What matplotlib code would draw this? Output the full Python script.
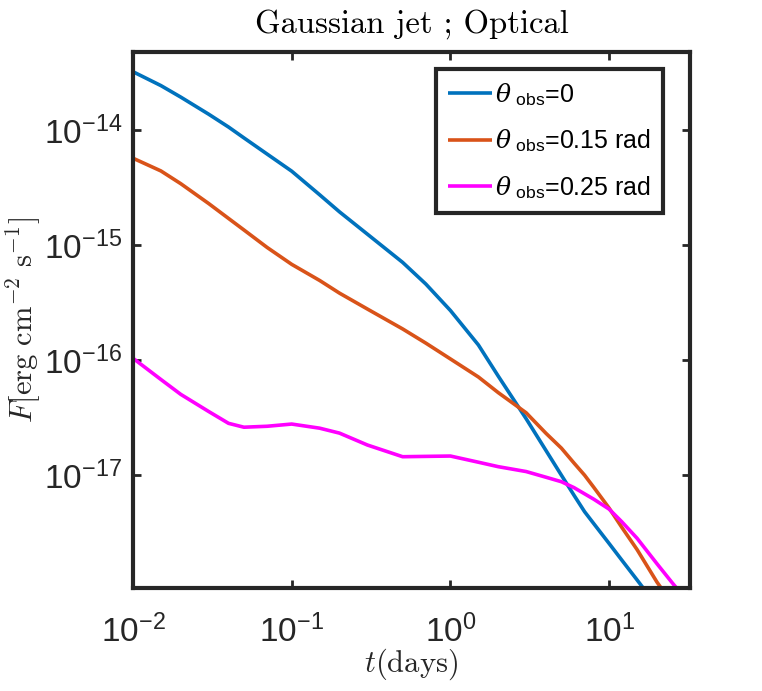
import numpy as np
import matplotlib
matplotlib.use("Agg")
import matplotlib.pyplot as plt
from matplotlib import font_manager

avail = {f.name for f in font_manager.fontManager.ttflist}
narrow = 'Liberation Sans Narrow' in avail
tick_font = 'Liberation Sans Narrow' if narrow else 'Liberation Sans'
tick_size = 26 if narrow else 24

plt.rcParams['font.family'] = ['Liberation Sans', 'DejaVu Sans']
plt.rcParams['mathtext.fontset'] = 'custom'
plt.rcParams['mathtext.rm'] = 'Liberation Sans'
plt.rcParams['mathtext.sf'] = 'Liberation Sans'
plt.rcParams['mathtext.it'] = 'DejaVu Serif:italic'
plt.rcParams['mathtext.bf'] = 'Liberation Sans:bold'

# time grid (days)
t_days = [0.01, 0.015, 0.02, 0.03, 0.04, 0.05, 0.07, 0.1, 0.15, 0.2, 0.3, 0.5,
          0.7, 1, 1.5, 2, 3, 4, 5, 6, 7, 8, 10, 12, 15, 20, 25, 30]

# flux [erg cm^-2 s^-1]
F_obs0 = [3.21e-14, 2.43e-14, 1.93e-14, 1.37e-14, 1.06e-14, 8.53e-15, 6.17e-15,
          4.38e-15, 2.73e-15, 1.94e-15, 1.24e-15, 7.05e-16, 4.57e-16, 2.69e-16,
          1.35e-16, 7.24e-17, 3.08e-17, 1.63e-17, 9.95e-18, 6.67e-18, 4.79e-18,
          3.77e-18, 2.53e-18, 1.82e-18, 1.22e-18, 7.24e-19, np.nan, np.nan]
F_obs015 = [5.68e-15, 4.40e-15, 3.41e-15, 2.29e-15, 1.70e-15, 1.35e-15, 9.51e-16,
            6.78e-16, 4.91e-16, 3.81e-16, 2.77e-16, 1.86e-16, 1.40e-16, 1.02e-16,
            7.11e-17, 5.20e-17, 3.47e-17, 2.30e-17, 1.71e-17, 1.27e-17, 9.95e-18,
            7.80e-18, 5.14e-18, 3.51e-18, 2.24e-18, 1.17e-18, 7.60e-19, np.nan]
F_obs025 = [1.035e-16, 6.76e-17, 5.02e-17, 3.56e-17, 2.81e-17, 2.60e-17, 2.65e-17,
            2.77e-17, 2.55e-17, 2.31e-17, 1.82e-17, 1.44e-17, 1.45e-17, 1.46e-17,
            1.29e-17, 1.18e-17, 1.07e-17, 9.55e-18, 8.73e-18, 7.76e-18, 6.85e-18,
            6.15e-18, 5.04e-18, 3.92e-18, 2.81e-18, 1.69e-18, 1.15e-18, 8.50e-19]

labels = [r'$\theta_{\mathrm{\ obs}}$=0',
          r'$\theta_{\mathrm{\ obs}}$=0.15 rad',
          r'$\theta_{\mathrm{\ obs}}$=0.25 rad']
colors = ['#0072BD', '#D95319', '#FF00FF']

xticks = [1e-2, 1e-1, 1e0, 1e1]
yticks = [1e-17, 1e-16, 1e-15, 1e-14]

fig = plt.figure(figsize=(7.62, 6.91), dpi=100)
ax = fig.add_axes([0.1745, 0.1491, 0.7310, 0.7750])

for F, lab, c in zip([F_obs0, F_obs015, F_obs025], labels, colors):
    ax.plot(t_days, F, color=c, lw=2.6, label=lab, solid_capstyle='butt')

ax.set_xscale('log')
ax.set_yscale('log')
ax.set_xlim(0.01, 32.3)
ax.set_ylim(1.04e-18, 4.72e-14)
ax.set_xticks(xticks)
ax.set_yticks(yticks)
ax.minorticks_off()

dark = '#262626'
for s in ax.spines.values():
    s.set_linewidth(3.0)
    s.set_color(dark)
ax.tick_params(which='both', direction='in', top=True, right=True,
               length=6, width=2.0, color=dark, labelsize=tick_size,
               labelcolor=dark, labelfontfamily=tick_font)
ax.tick_params(axis='x', pad=19)
ax.tick_params(axis='y', pad=8)

ax.set_title('Gaussian jet ; Optical', fontsize=23.5, fontfamily='cmr10',
             pad=14, color='black')
ax.set_xlabel(r'$t(\mathrm{days})$', fontsize=22, math_fontfamily='cm',
              color=dark)
ax.set_ylabel(r'$F[\mathrm{erg\ cm^{-2}\ s^{-1}}]$', fontsize=22,
              math_fontfamily='cm', color=dark)
ax.xaxis.set_label_coords(0.5, -0.110)
ax.yaxis.set_label_coords(-0.160, 0.5)

leg = ax.legend(loc='upper right', bbox_to_anchor=(0.952, 0.969),
                borderaxespad=0, fontsize=18, handlelength=1.75,
                handletextpad=0.15, borderpad=0.47, labelspacing=0.79,
                fancybox=False, framealpha=1, edgecolor=dark)
leg.get_frame().set_linewidth(3.0)
for line in leg.get_lines():
    line.set_linewidth(2.6)

fig.savefig('out.png', dpi=100, facecolor='white')
